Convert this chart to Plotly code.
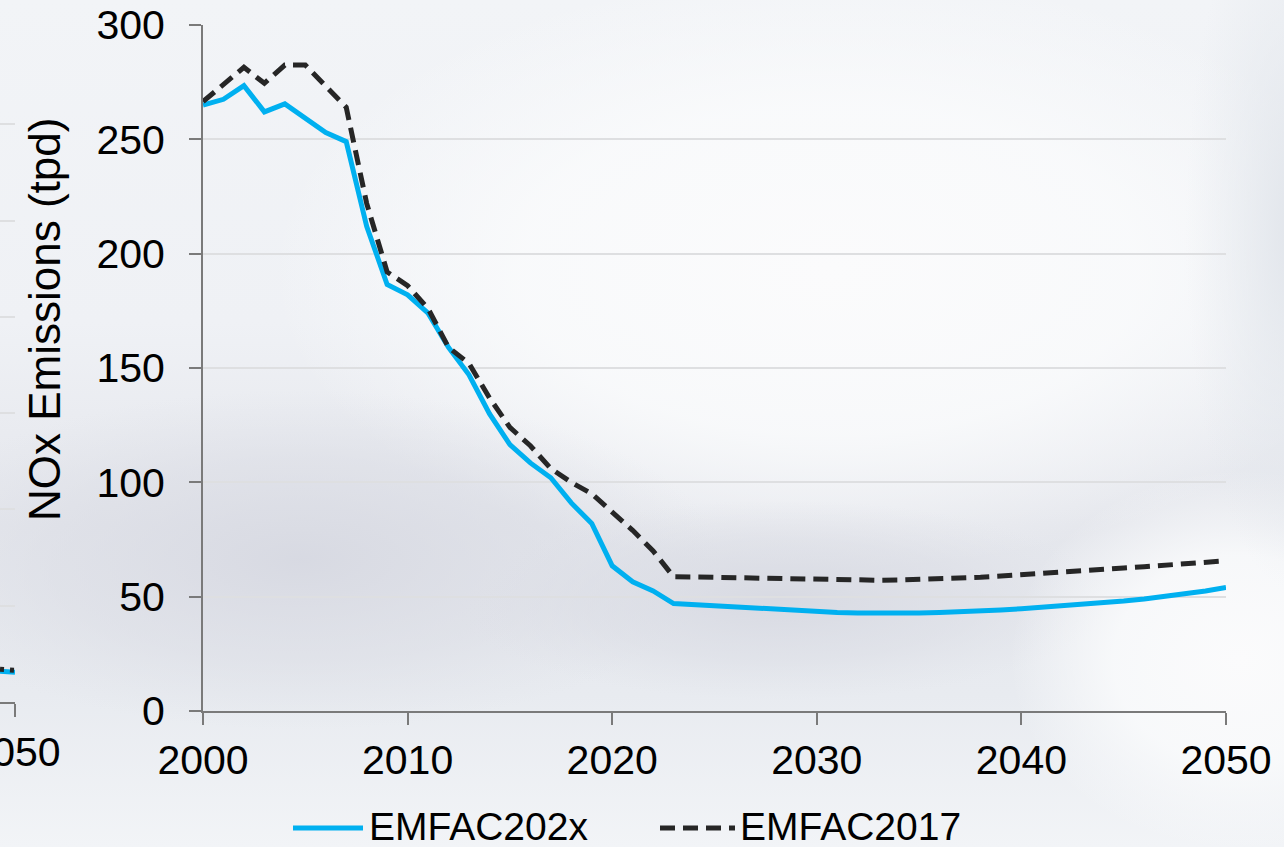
import base64
import plotly.graph_objects as go

# NOx emissions (tons per day) by calendar year
years = list(range(2000, 2051))

emfac202x = [
    265.0, 267.5, 273.5, 262.0, 265.5, 259.0, 253.0, 249.0, 212.0, 186.5,
    182.0, 174.0, 159.0, 147.0, 130.0, 116.5, 108.5, 102.0, 91.0, 82.0,
    63.5, 56.5, 52.5, 47.0, 46.5, 46.0, 45.4, 44.8, 44.3, 43.8,
    43.4, 43.1, 42.9, 42.8, 42.8, 42.9, 43.1, 43.3, 43.7, 44.2,
    44.7, 45.3, 45.9, 46.6, 47.3, 48.1, 49.0, 50.0, 51.2, 52.5,
    54.0,
]

emfac2017 = [
    266.5, 274.0, 281.5, 274.5, 282.5, 282.5, 273.5, 264.0, 222.0, 192.0,
    186.0, 176.0, 159.0, 152.0, 137.0, 124.0, 116.0, 106.0, 100.0, 95.0,
    87.0, 79.0, 70.0, 58.7, 58.6, 58.4, 58.2, 58.0, 57.8, 57.6,
    57.4, 57.3, 57.2, 57.2, 57.3, 57.5, 57.8, 58.1, 58.5, 59.0,
    59.5, 60.1, 60.7, 61.3, 61.9, 62.5, 63.1, 63.7, 64.4, 65.0,
    65.7,
]

series_names = ["EMFAC202x", "EMFAC2017"]

# tail end of the neighbouring panel on the left
side_years = [2049, 2050]
side_202x = [3.2, 3.1]
side_2017 = [3.4, 3.3]

y_ticks = [0, 50, 100, 150, 200, 250, 300]
x_ticks = [2000, 2010, 2020, 2030, 2040, 2050]

BLUE = "#00b0f0"
DARK = "#262626"
AXIS = "#7a7a7a"
GRID = "#dedfe1"
FONT = "Liberation Sans, Arial, sans-serif"
DASH = "15px,8px"

W, H = 1284, 847


def px_x(p):
    return p / W


def px_y(p):
    return 1 - p / H


# soft studio-style backdrop
backdrop = f"""<svg xmlns="http://www.w3.org/2000/svg" width="{W}" height="{H}" viewBox="0 0 {W} {H}" preserveAspectRatio="none">
<defs>
<linearGradient id="base" x1="0" y1="0" x2="0" y2="1">
<stop offset="0" stop-color="#f2f4f7"/>
<stop offset="0.38" stop-color="#eff1f5"/>
<stop offset="0.62" stop-color="#e4e6ec"/>
<stop offset="0.82" stop-color="#e8ebf0"/>
<stop offset="1" stop-color="#f2f4f7"/>
</linearGradient>
<radialGradient id="white">
<stop offset="0" stop-color="#fbfbfc" stop-opacity="1"/>
<stop offset="0.55" stop-color="#fafbfc" stop-opacity="0.85"/>
<stop offset="1" stop-color="#fafbfc" stop-opacity="0"/>
</radialGradient>
<radialGradient id="shade">
<stop offset="0" stop-color="#d6d8e1" stop-opacity="0.9"/>
<stop offset="0.6" stop-color="#dadce4" stop-opacity="0.5"/>
<stop offset="1" stop-color="#dee0e7" stop-opacity="0"/>
</radialGradient>
<radialGradient id="edge">
<stop offset="0" stop-color="#e1e5eb" stop-opacity="1"/>
<stop offset="1" stop-color="#e5e9ee" stop-opacity="0"/>
</radialGradient>
</defs>
<rect width="{W}" height="{H}" fill="url(#base)"/>
<ellipse cx="830" cy="270" rx="560" ry="300" fill="url(#white)"/>
<ellipse cx="300" cy="560" rx="420" ry="170" fill="url(#shade)"/>
<ellipse cx="780" cy="600" rx="330" ry="100" fill="url(#shade)"/>
<ellipse cx="1240" cy="660" rx="230" ry="190" fill="url(#white)"/>
<ellipse cx="1295" cy="230" rx="110" ry="360" fill="url(#edge)"/>
</svg>"""
backdrop_uri = "data:image/svg+xml;base64," + base64.b64encode(backdrop.encode()).decode()

fig = go.Figure()

fig.add_trace(go.Scatter(
    x=years, y=emfac202x, name=series_names[0], mode="lines",
    line=dict(color=BLUE, width=5), xaxis="x", yaxis="y",
))
fig.add_trace(go.Scatter(
    x=years, y=emfac2017, name=series_names[1], mode="lines",
    line=dict(color=DARK, width=5, dash=DASH), xaxis="x", yaxis="y",
))
fig.add_trace(go.Scatter(
    x=side_years, y=side_202x, mode="lines", showlegend=False,
    line=dict(color=BLUE, width=5), xaxis="x2", yaxis="y2", hoverinfo="skip",
))
fig.add_trace(go.Scatter(
    x=side_years, y=side_2017, mode="lines", showlegend=False,
    line=dict(color=DARK, width=5, dash="4px,6px"), xaxis="x2", yaxis="y2", hoverinfo="skip",
))

# legend keys drawn below the plot: line sample + label
legend_y = px_y(826)
legend_items = [
    (series_names[0], BLUE, "solid", 293, 363, 368),
    (series_names[1], DARK, DASH, 660, 735, 739),
]
shapes = []
annotations = []
for name, color, dash, x0, x1, xt in legend_items:
    shapes.append(dict(
        type="line", xref="paper", yref="paper", x0=px_x(x0), x1=px_x(x1),
        y0=px_y(828), y1=px_y(828), line=dict(color=color, width=5, dash=dash),
    ))
    annotations.append(dict(
        text=name, xref="paper", yref="paper", x=px_x(xt), y=legend_y,
        xanchor="left", yanchor="middle", showarrow=False, font=dict(size=39),
        borderpad=0,
    ))

annotations.append(dict(
    text="NOx Emissions (tpd)", x=px_x(44), y=px_y(320), xref="paper", yref="paper",
    showarrow=False, textangle=-90, font=dict(size=44), xanchor="center", yanchor="middle",
))

fig.update_layout(
    width=W, height=H,
    margin=dict(l=0, r=0, t=0, b=0, pad=0, autoexpand=False),
    paper_bgcolor="#eef0f4",
    plot_bgcolor="rgba(0,0,0,0)",
    showlegend=False,
    font=dict(family=FONT, size=40, color="#000000"),
    images=[dict(
        source=backdrop_uri, xref="paper", yref="paper", x=0, y=1,
        sizex=1, sizey=1, sizing="stretch", layer="below", xanchor="left", yanchor="top",
    )],
    xaxis=dict(
        domain=[px_x(203), px_x(1226)], range=[2000, 2050],
        tickmode="array", tickvals=x_ticks, ticktext=[str(t) for t in x_ticks],
        showgrid=False, zeroline=False,
        showline=True, linecolor=AXIS, linewidth=2,
        ticks="outside", ticklen=12, tickwidth=2, tickcolor=AXIS,
        tickfont=dict(size=41), anchor="y", automargin=False,
    ),
    yaxis=dict(
        domain=[px_y(711), px_y(25)], range=[0, 300],
        tickmode="array", tickvals=y_ticks, ticktext=[str(t) for t in y_ticks],
        showgrid=True, gridcolor=GRID, gridwidth=2, zeroline=False,
        showline=True, linecolor=AXIS, linewidth=2,
        ticks="outside", ticklen=12, tickwidth=2, tickcolor=AXIS,
        tickfont=dict(size=41), anchor="x", automargin=False,
        ticklabelstandoff=16,
    ),
    xaxis2=dict(
        domain=[0, px_x(15)], range=[2049, 2050],
        tickmode="array", tickvals=[2050], ticktext=["2050"],
        showgrid=False, zeroline=False,
        showline=True, linecolor=AXIS, linewidth=2,
        ticks="outside", ticklen=13, tickwidth=2, tickcolor=AXIS,
        tickfont=dict(size=41), anchor="y2", automargin=False,
        ticklabeloverflow="allow",
    ),
    yaxis2=dict(
        domain=[px_y(702), px_y(28)], range=[0, 70],
        tickmode="linear", tick0=0, dtick=10,
        showgrid=True, gridcolor=GRID, gridwidth=2, zeroline=False,
        showline=False, showticklabels=False, anchor="x2", automargin=False,
    ),
    shapes=shapes,
    annotations=annotations,
)

fig.write_html("out.html")
